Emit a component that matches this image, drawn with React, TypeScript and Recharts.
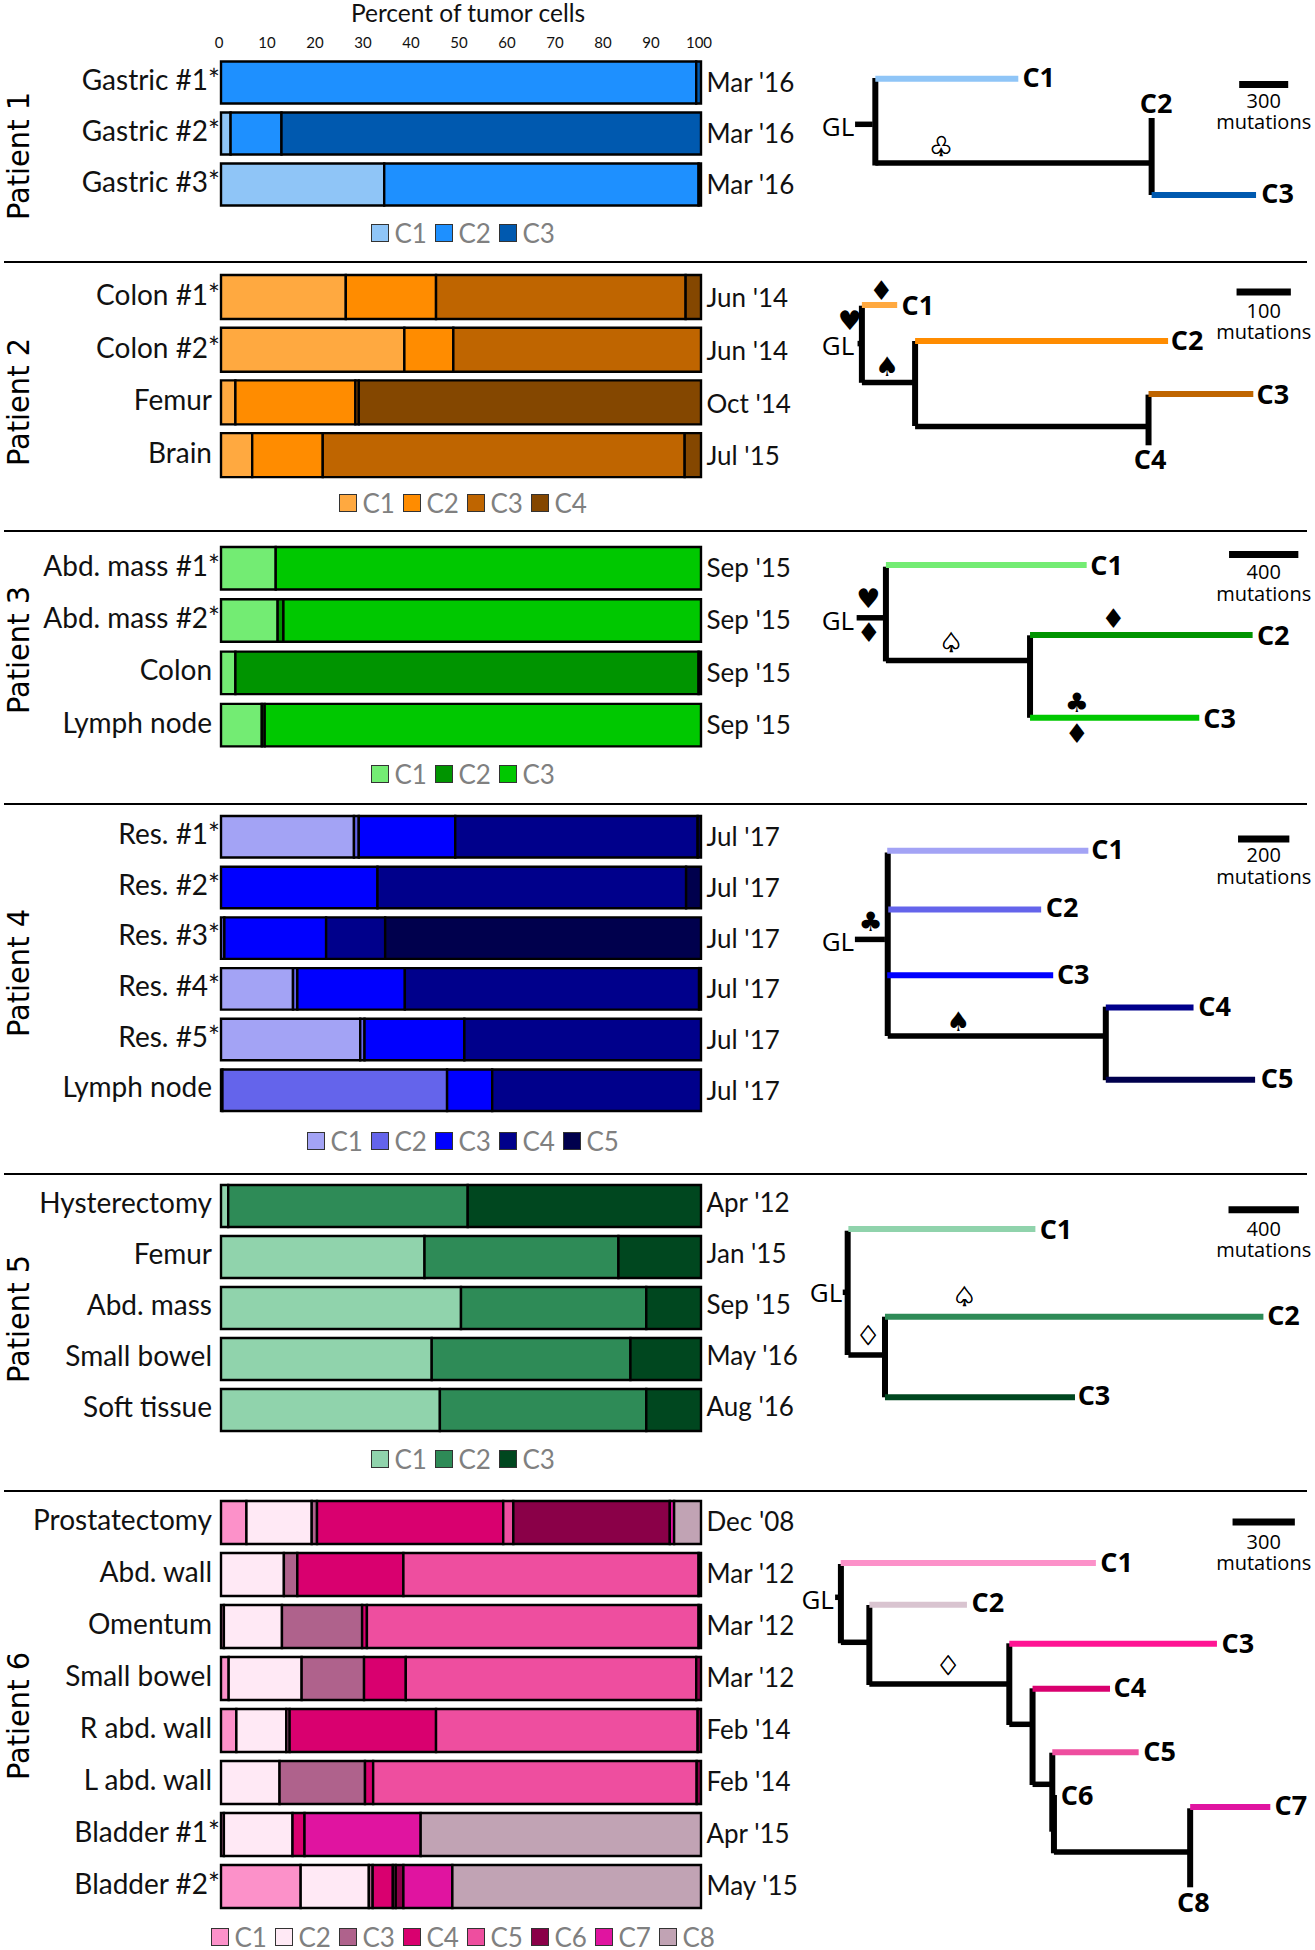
import React from 'react';
import { BarChart, Bar, XAxis, YAxis, Legend, ScatterChart, Scatter } from 'recharts';

// tumor composition: one row per sample, one column per clone (percent)
const percentTicks = [0, 10, 20, 30, 40, 50, 60, 70, 80, 90, 100];

const p1Samples = ['Gastric #1*', 'Gastric #2*', 'Gastric #3*'];
const p1Dates = ["Mar '16", "Mar '16", "Mar '16"];
const p1Values = [
  [0, 99, 1],
  [2, 10.6, 87.4],
  [34, 65.5, 0.5],
];
const p1Colors = ['#8FC5F7', '#1E90FF', '#0059AF'];

const p2Samples = ['Colon #1*', 'Colon #2*', 'Femur', 'Brain'];
const p2Dates = ["Jun '14", "Jun '14", "Oct '14", "Jul '15"];
const p2Values = [
  [26, 18.8, 52, 3.2],
  [38.2, 10.2, 51.6, 0],
  [3, 25, 0.7, 71.3],
  [6.5, 14.7, 75.4, 3.4],
];
const p2Colors = ['#FFA940', '#FF8C00', '#BF6500', '#844700'];

const p3Samples = ['Abd. mass #1*', 'Abd. mass #2*', 'Colon', 'Lymph node'];
const p3Dates = ["Sep '15", "Sep '15", "Sep '15", "Sep '15"];
const p3Values = [
  [11.4, 0, 88.6],
  [11.8, 1.2, 87],
  [3, 96.5, 0.5],
  [8.5, 0.6, 90.9],
];
const p3Colors = ['#73EC73', '#009400', '#00C800'];

const p4Samples = ['Res. #1*', 'Res. #2*', 'Res. #3*', 'Res. #4*', 'Res. #5*', 'Lymph node'];
const p4Dates = ["Jul '17", "Jul '17", "Jul '17", "Jul '17", "Jul '17", "Jul '17"];
const p4Values = [
  [27.7, 1, 20.1, 50.5, 0.7],
  [0, 0, 32.6, 64.3, 3.1],
  [0, 0.7, 21.2, 12.3, 65.8],
  [15, 0.9, 22.4, 61.3, 0.4],
  [29, 0.9, 20.8, 49.3, 0],
  [0.3, 46.8, 9.4, 43.5, 0],
];
const p4Colors = ['#A3A3F5', '#6464EB', '#0000FF', '#00008B', '#00004D'];

const p5Samples = ['Hysterectomy', 'Femur', 'Abd. mass', 'Small bowel', 'Soft tissue'];
const p5Dates = ["Apr '12", "Jan '15", "Sep '15", "May '16", "Aug '16"];
const p5Values = [
  [1.5, 49.9, 48.6],
  [42.4, 40.4, 17.2],
  [50, 38.6, 11.4],
  [43.9, 41.4, 14.7],
  [45.6, 43, 11.4],
];
const p5Colors = ['#90D3AC', '#2E8B57', '#00471F'];

const p6Samples = ['Prostatectomy', 'Abd. wall', 'Omentum', 'Small bowel', 'R abd. wall', 'L abd. wall', 'Bladder #1*', 'Bladder #2*'];
const p6Dates = ["Dec  '08", "Mar '12", "Mar '12", "Mar '12", "Feb '14", "Feb '14", "Apr '15", "May '15"];
const p6Values = [
  [5.3, 13.6, 1.1, 38.8, 2.1, 32.6, 0.9, 5.6],
  [0, 13.1, 2.8, 22.1, 61.5, 0.5, 0, 0],
  [0.6, 12.1, 16.7, 1, 69.1, 0.5, 0, 0],
  [1.6, 15.2, 13, 8.7, 60.5, 1, 0, 0],
  [3.2, 10.4, 0.7, 30.5, 54.5, 0.7, 0, 0],
  [0, 12.2, 17.8, 1.7, 67.4, 0.9, 0, 0],
  [0.6, 14.3, 0, 2.5, 0, 0, 24.2, 58.4],
  [16.6, 14.2, 0.8, 4.2, 0.6, 1.6, 10.2, 51.8],
];
const p6Colors = ['#FC91C9', '#FFE9F5', '#AF628C', '#D9006F', '#EE4E9F', '#8A0048', '#E014A0', '#C1A3B4'];
const p6TreeColors = ['#FC91C9', '#D9C4D0', '#FF1493', '#D9006F', '#EE4E9F', '#8A0048', '#E014A0', '#C1A3B4'];

// phylogenies: x is mutations from the left of the tree box, y is a free lane
// stems are [from, to, lane, clone index or -1 for a black trunk], links are [x, lane1, lane2]
const t1Stems = [[337, 445, 84.3, -1], [461, 1336, 38.7, 0], [461, 2142, 123, -1], [2152, 2791, 155, 2]];
const t1Links = [[461, 38, 125.5], [2152, 78, 155]];
const t1Nodes = [[1461, 37, 'C1'], [2179, 63.7, 'C2'], [2923, 153, 'C3']];
const t1Marks = [[863, 106, '♧']];
const t1Root = [233, 85.7];

const t2Stems = [[106, 110, 81.6, -1], [114, 179, 43, 0], [114, 209, 120.4, -1], [212, 678, 79, 1], [212, 639, 164.4, -1], [642, 835, 132, 2]];
const t2Links = [[114, 43.7, 120.8], [212, 79, 164], [642, 132.6, 183.3]];
const t2Nodes = [[217, 43, 'C1'], [713, 78, 'C2'], [871, 132, 'C3'], [645, 197.5, 'C4']];
const t2Marks = [[150, 28.5, '♦'], [92, 58, '♥'], [160, 104.5, '♠']];
const t2Root = [70, 83];

const t3Stems = [[327, 481, 85.8, -1], [496, 1655, 33, 0], [496, 1318, 128.6, -1], [1328, 2613, 102.9, 1], [1328, 2305, 185.8, 2]];
const t3Links = [[496, 34.7, 129.4], [1328, 103.3, 185.8]];
const t3Nodes = [[1770, 33, 'C1'], [2732, 103, 'C2'], [2422, 186, 'C3']];
const t3Marks = [[394, 66.6, '♥'], [398, 100.9, '♦'], [873, 110.7, '♤'], [1809, 86.6, '♦'], [1599, 170.7, '♣'], [1599, 201, '♦']];
const t3Root = [219, 88];

const t4Stems = [[214, 331, 134.4, -1], [340, 1124, 45.8, 0], [344, 940, 104.6, 1], [340, 987, 170.3, 2], [342, 1185, 231.1, -1], [1192, 1534, 202.6, 3], [1192, 1774, 274.8, 4]];
const t4Links = [[342, 47.4, 231], [1192, 201.7, 275.2]];
const t4Nodes = [[1199, 44.2, 'C1'], [1022, 102.6, 'C2'], [1065, 169.9, 'C3'], [1616, 201.3, 'C4'], [1860, 273.6, 'C5']];
const t4Marks = [[275, 116.8, '♣'], [616, 216, '♠']];
const t4Root = [148, 136];

const t5Stems = [[243, 256, 117.3, -1], [275, 1338, 54, 0], [275, 474, 180, -1], [483, 2634, 141.7, 1], [483, 1563, 222.3, 2]];
const t5Links = [[271, 55.7, 180], [483, 141.7, 222.3]];
const t5Nodes = [[1455, 54, 'C1'], [2748, 140, 'C2'], [1671, 220, 'C3']];
const t5Marks = [[934, 121.7, '♤'], [387, 160, '♢']];
const t5Root = [148, 117];

const t6Stems = [
  [169, 185, 106.3, -1], [196, 1425, 72, 0], [197, 329, 151.3, -1], [334, 804, 113.7, 1], [334, 998, 193, -1],
  [1008, 2008, 152.7, 2], [1008, 1111, 233.3, -1], [1120, 1493, 197.7, 3], [1120, 1207, 293.3, -1],
  [1215, 1631, 261.3, 4], [1223, 1870, 361, -1], [1879, 2265, 316, 6],
];
const t6Links = [[197, 73, 152.3], [334, 114, 194], [1008, 152.3, 234], [1120, 197.3, 294], [1215, 261.7, 340.7], [1223, 304, 362.3], [1879, 317.3, 396.3]];
const t6Nodes = [[1525, 71.7, 'C1'], [905, 111, 'C2'], [2109, 152, 'C3'], [1589, 196, 'C4'], [1732, 260.7, 'C5'], [1335, 304, 'C6'], [2364, 314.7, 'C7'], [1894, 411.7, 'C8']];
const t6Marks = [[713, 174, '♢']];
const t6Root = [85, 108];

const FONT = 'Lato, sans-serif';
const TREE_FONT = '"Open Sans", sans-serif';

const CompositionChart = ({ samples, dates, values, colors, top, plotTop, pitch, barSize, legendGap, showAxis, dateShift = 0 }: any) => {
  const clones = colors.map((_: string, i: number) => `C${i + 1}`);
  const rows = samples.map((sample: string, r: number) => {
    const row: any = { sample };
    clones.forEach((c: string, i: number) => { row[c] = values[r][i]; });
    return row;
  });
  const plotHeight = samples.length * pitch;
  const height = plotTop + plotHeight + legendGap + 11;

  const leftTick = ({ x, y, payload }: any) => (
    <text x={String(payload.value).endsWith('*') ? x + 13 : x + 5} y={y - 3.5} textAnchor="end" dominantBaseline="central" fontFamily={FONT} fontSize={28} fill="#111">
      {payload.value}
    </text>
  );
  const rightTick = ({ x, y, index }: any) => (
    <text x={x - 2.5} y={y + dateShift} dominantBaseline="central" fontFamily={FONT} fontSize={26} fill="#111">
      {dates[index]}
    </text>
  );
  const legendContent = () => (
    <div style={{ display: 'flex', justifyContent: 'center', height: 22, alignItems: 'center', fontFamily: FONT, fontSize: 26, color: '#808080' }}>
      {clones.map((c: string, i: number) => (
        <div key={c} style={{ display: 'flex', alignItems: 'center', width: i === clones.length - 1 ? 52 : 64 }}>
          <span style={{ width: 16, height: 16, background: colors[i], border: '1.5px solid #333', marginRight: 6, flex: 'none' }} />
          {c}
        </div>
      ))}
    </div>
  );

  return (
    <div style={{ position: 'absolute', left: 0, top }}>
      <BarChart
        width={800}
        height={height}
        layout="vertical"
        data={rows}
        barSize={barSize}
        margin={{ top: showAxis ? 0 : plotTop, right: 0, bottom: legendGap - 11, left: 0 }}
      >
        <XAxis
          type="number"
          domain={[0, 100]}
          ticks={percentTicks}
          orientation="top"
          hide={!showAxis}
          height={plotTop}
          axisLine={false}
          tickLine={false}
          interval={0}
          tick={{ fontFamily: FONT, fontSize: 15, fill: '#111', dx: -2, dy: 1 }}
          tickMargin={4}
          label={{ value: 'Percent of tumor cells', position: 'insideTop', offset: 5, dx: 7, fontFamily: FONT, fontSize: 24.5, fill: '#111' }}
        />
        <YAxis yAxisId="left" type="category" dataKey="sample" width={221} axisLine={false} tickLine={false} interval={0} tickMargin={8} tick={leftTick} />
        <YAxis yAxisId="right" orientation="right" type="category" dataKey="sample" width={99} axisLine={false} tickLine={false} interval={0} tick={rightTick} />
        {clones.map((c: string, i: number) => (
          <Bar key={c} yAxisId="left" dataKey={c} stackId="a" fill={colors[i]} stroke="#000" strokeWidth={2.4} isAnimationActive={false} />
        ))}
        <Legend
          verticalAlign="bottom"
          content={legendContent}
          wrapperStyle={{ left: 0, width: 921, top: plotTop + plotHeight + legendGap - 11, bottom: 'auto', height: 22 }}
        />
      </BarChart>
    </div>
  );
};

const noMark = () => <g />;

const TreeChart = ({ stems, links, nodes, marks, root, colors, scaleSize, mutPerPx, top, height, scaleLane, scaleTextLanes }: any) => {
  const maxX = 515 * mutPerPx;
  const scaleCenter = 463.7 * mutPerPx;
  const textShape = (props: any) => {
    const { cx, cy, payload } = props;
    const hollow = payload.label === '♧' || payload.label === '♤' || payload.label === '♢';
    const style: any = payload.kind === 'node'
      ? { fontFamily: TREE_FONT, fontWeight: 700, fontSize: 27 }
      : payload.kind === 'mark'
        ? { fontFamily: '"DejaVu Sans"', fontSize: 27, stroke: hollow ? '#000' : 'none', strokeWidth: hollow ? 0.7 : 0 }
        : payload.kind === 'root'
          ? { fontFamily: TREE_FONT, fontSize: 26 }
          : { fontFamily: TREE_FONT, fontSize: 20 };
    return <text x={cx} y={payload.kind === 'node' ? cy - 1 : cy} textAnchor="middle" dominantBaseline="central" fill="#000" {...style}>{payload.label}</text>;
  };
  const texts = [
    ...nodes.map((n: any) => ({ x: n[0], y: n[1], label: n[2], kind: 'node' })),
    ...marks.map((n: any) => ({ x: n[0], y: n[1], label: n[2], kind: 'mark' })),
    { x: root[0], y: root[1], label: 'GL', kind: 'root' },
    { x: scaleCenter, y: scaleTextLanes[0], label: String(scaleSize), kind: 'scale' },
    { x: scaleCenter, y: scaleTextLanes[1], label: 'mutations', kind: 'scale' },
  ];
  return (
    <div style={{ position: 'absolute', left: 800, top }}>
      <ScatterChart width={515} height={height} margin={{ top: 0, right: 0, bottom: 0, left: 0 }}>
        <XAxis type="number" dataKey="x" domain={[0, maxX]} hide />
        <YAxis type="number" dataKey="y" domain={[0, height]} reversed hide />
        {links.map((l: number[], i: number) => (
          <Scatter key={`l${i}`} data={[{ x: l[0], y: l[1] }, { x: l[0], y: l[2] }]} line={{ stroke: '#000', strokeWidth: 6 }} shape={noMark} isAnimationActive={false} />
        ))}
        {stems.map((s: number[], i: number) => (
          <Scatter
            key={`s${i}`}
            data={[{ x: s[0], y: s[2] }, { x: s[1], y: s[2] }]}
            line={{ stroke: s[3] < 0 ? '#000' : colors[s[3]], strokeWidth: s[3] < 0 ? 5.5 : 6 }}
            shape={noMark}
            isAnimationActive={false}
          />
        ))}
        <Scatter
          data={[{ x: scaleCenter - scaleSize / 2, y: scaleLane }, { x: scaleCenter + scaleSize / 2, y: scaleLane }]}
          line={{ stroke: '#000', strokeWidth: 7 }}
          shape={noMark}
          isAnimationActive={false}
        />
        <Scatter data={texts} shape={textShape} isAnimationActive={false} />
      </ScatterChart>
    </div>
  );
};

const patientLabels = [
  { label: 'Patient 1', y: 156 },
  { label: 'Patient 2', y: 402 },
  { label: 'Patient 3', y: 650 },
  { label: 'Patient 4', y: 973 },
  { label: 'Patient 5', y: 1319 },
  { label: 'Patient 6', y: 1716 },
];
const ruleTops = [261, 530, 803, 1173, 1490];

export default function App() {
  return (
    <div style={{ position: 'absolute', left: 0, top: 0, width: 1315, height: 1950, background: '#fff' }}>
      <CompositionChart samples={p1Samples} dates={p1Dates} values={p1Values} colors={p1Colors} top={0} plotTop={56.5} pitch={51} barSize={42} legendGap={23.5} showAxis />
      <CompositionChart samples={p2Samples} dates={p2Dates} values={p2Values} colors={p2Colors} top={270.6} plotTop={0} pitch={52.7} barSize={44} legendGap={21.5} />
      <CompositionChart samples={p3Samples} dates={p3Dates} values={p3Values} colors={p3Colors} top={541.6} plotTop={0} pitch={52.3} barSize={42.5} legendGap={23} dateShift={-1} />
      <CompositionChart samples={p4Samples} dates={p4Dates} values={p4Values} colors={p4Colors} top={810.9} plotTop={0} pitch={50.7} barSize={41.5} legendGap={26} />
      <CompositionChart samples={p5Samples} dates={p5Dates} values={p5Values} colors={p5Colors} top={1179.5} plotTop={0} pitch={51} barSize={42} legendGap={24.5} dateShift={-3.5} />
      <CompositionChart samples={p6Samples} dates={p6Dates} values={p6Values} colors={p6Colors} top={1495.5} plotTop={0} pitch={52} barSize={43} legendGap={25.5} dateShift={-1} />

      <TreeChart stems={t1Stems} links={t1Links} nodes={t1Nodes} marks={t1Marks} root={t1Root} colors={p1Colors} scaleSize={300} mutPerPx={6.12} top={40} height={200} scaleLane={44.5} scaleTextLanes={[60.3, 81.6]} />
      <TreeChart stems={t2Stems} links={t2Links} nodes={t2Nodes} marks={t2Marks} root={t2Root} colors={p2Colors} scaleSize={100} mutPerPx={1.842} top={262} height={250} scaleLane={30} scaleTextLanes={[48, 69]} />
      <TreeChart stems={t3Stems} links={t3Links} nodes={t3Nodes} marks={t3Marks} root={t3Root} colors={p3Colors} scaleSize={400} mutPerPx={5.773} top={532} height={260} scaleLane={22.5} scaleTextLanes={[39.6, 61.3]} />
      <TreeChart stems={t4Stems} links={t4Links} nodes={t4Nodes} marks={t4Marks} root={t4Root} colors={p4Colors} scaleSize={200} mutPerPx={3.898} top={805} height={340} scaleLane={34} scaleTextLanes={[49.9, 71.5]} />
      <TreeChart stems={t5Stems} links={t5Links} nodes={t5Nodes} marks={t5Marks} root={t5Root} colors={p5Colors} scaleSize={400} mutPerPx={5.684} top={1175} height={300} scaleLane={34.7} scaleTextLanes={[53, 74]} />
      <TreeChart stems={t6Stems} links={t6Links} nodes={t6Nodes} marks={t6Marks} root={t6Root} colors={p6TreeColors} scaleSize={300} mutPerPx={4.816} top={1491} height={440} scaleLane={31} scaleTextLanes={[50, 71.7]} />

      {ruleTops.map((y) => (
        <div key={y} style={{ position: 'absolute', left: 4, width: 1303, top: y, height: 2, background: '#000' }} />
      ))}
      <svg width={40} height={1950} style={{ position: 'absolute', left: 0, top: 0 }}>
        {patientLabels.map((p) => (
          <text
            key={p.label}
            transform={`translate(28.5 ${p.y}) rotate(-90)`}
            textAnchor="middle"
            fontFamily='"DejaVu Sans"'
            fontSize={30.5}
            textLength={128}
            lengthAdjust="spacingAndGlyphs"
            fill="#000"
          >
            {p.label}
          </text>
        ))}
      </svg>
    </div>
  );
}
